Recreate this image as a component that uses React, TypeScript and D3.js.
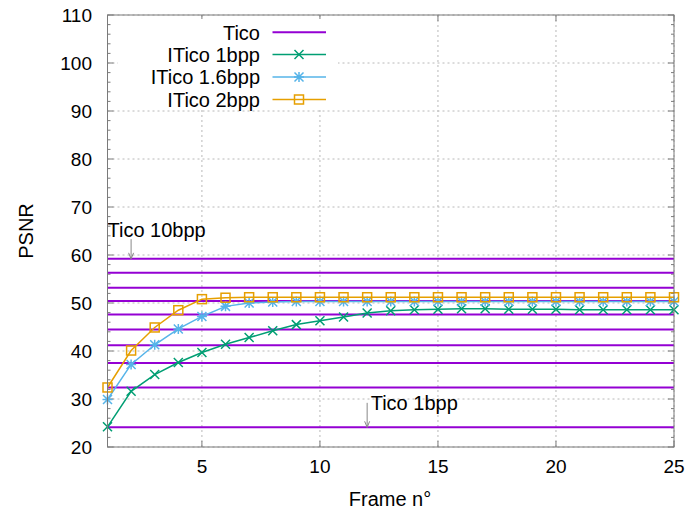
import React from "react";
import * as d3 from "d3";

const frames = [1, 2, 3, 4, 5, 6, 7, 8, 9, 10, 11, 12, 13, 14, 15, 16, 17, 18, 19, 20, 21, 22, 23, 24, 25];
const ticoLevels = [24.1, 32.4, 37.5, 41.2, 44.5, 47.6, 50.4, 53.2, 56.3, 59.2];
const itico1bpp = [24.2, 31.6, 35.1, 37.6, 39.7, 41.4, 42.8, 44.2, 45.5, 46.3, 47.1, 47.9, 48.4, 48.6, 48.7, 48.8, 48.8, 48.7, 48.7, 48.7, 48.6, 48.6, 48.6, 48.6, 48.6];
const itico16bpp = [29.9, 37.2, 41.3, 44.6, 47.2, 49.3, 50.0, 50.2, 50.3, 50.3, 50.3, 50.3, 50.3, 50.3, 50.3, 50.3, 50.3, 50.3, 50.3, 50.3, 50.3, 50.3, 50.3, 50.3, 50.3];
const itico2bpp = [32.4, 40.1, 44.9, 48.5, 50.8, 51.1, 51.2, 51.2, 51.2, 51.2, 51.2, 51.2, 51.2, 51.2, 51.2, 51.2, 51.2, 51.2, 51.2, 51.2, 51.2, 51.2, 51.2, 51.2, 51.2];
const xTicks = [5, 10, 15, 20, 25];
const yTicks = [20, 30, 40, 50, 60, 70, 80, 90, 100, 110];
const legendLabels = ["Tico", "ITico 1bpp", "ITico 1.6bpp", "ITico 2bpp"];
const annotations = [
  { text: "Tico 10bpp", tx: 1, ty: 63.8, ax: 2, ay1: 63.3, ay2: 59.2 },
  { text: "Tico 1bpp", tx: 12.15, ty: 27.8, ax: 12, ay1: 29.2, ay2: 24.1 },
];

const W = 689, H = 517;
const M = { left: 107.5, right: 674, top: 15, bottom: 447 };
const FONT = "'Liberation Sans', Arial, sans-serif";
const FS = 19;
const FL = 20;
const C = { tico: "#9400d3", i1: "#009e73", i16: "#56b4e9", i2: "#e69f00" };

function Marker({ type, x, y, color }: { type: string; x: number; y: number; color: string }) {
  const s = 4.5;
  if (type === "x")
    return <path d={`M${x - s},${y - s}L${x + s},${y + s}M${x - s},${y + s}L${x + s},${y - s}`} stroke={color} strokeWidth={1.5} fill="none" />;
  if (type === "star")
    return <path d={`M${x - s},${y - s}L${x + s},${y + s}M${x - s},${y + s}L${x + s},${y - s}M${x - s - 0.5},${y}L${x + s + 0.5},${y}M${x},${y - s - 0.5}L${x},${y + s + 0.5}`} stroke={color} strokeWidth={1.5} fill="none" />;
  return <rect x={x - s} y={y - s} width={2 * s} height={2 * s} stroke={color} strokeWidth={1.5} fill="none" />;
}

export default function App() {
  const x = d3.scaleLinear().domain([1, 25]).range([M.left, M.right]);
  const y = d3.scaleLinear().domain([20, 110]).range([M.bottom, M.top]);
  const line = d3.line<number>().x((_, i) => x(frames[i])).y((d) => y(d));
  const minorY = d3.range(20, 110.001, 2).filter((v) => v % 10 !== 0);
  const series = [
    { data: itico1bpp, color: C.i1, marker: "x" },
    { data: itico16bpp, color: C.i16, marker: "star" },
    { data: itico2bpp, color: C.i2, marker: "square" },
  ];
  const axisColor = "#7a7a7a";
  const gridColor = "#b8b8b8";
  const legendY = [32.3, 54.5, 77, 99.5];
  const legendColors = [C.tico, C.i1, C.i16, C.i2];
  const legendMarkers = ["none", "x", "star", "square"];
  return (
    <svg width={W} height={H} style={{ display: "block", position: "absolute", left: 0, top: 0, background: "#fff" }} fontFamily={FONT}>
      <rect width={W} height={H} fill="#fff" />
      {/* grid */}
      {xTicks.map((t) => (
        <line key={"gx" + t} x1={x(t)} x2={x(t)} y1={M.top} y2={M.bottom} stroke={gridColor} strokeWidth={1} strokeDasharray="2,3" />
      ))}
      {yTicks.map((t) => (
        <line key={"gy" + t} x1={M.left} x2={M.right} y1={y(t)} y2={y(t)} stroke={gridColor} strokeWidth={1} strokeDasharray="2,3" />
      ))}
      {/* ticks */}
      {yTicks.map((t) => (
        <g key={"ty" + t}>
          <line x1={M.left} x2={M.left + 6} y1={y(t)} y2={y(t)} stroke={axisColor} />
          <line x1={M.right} x2={M.right - 6} y1={y(t)} y2={y(t)} stroke={axisColor} />
          <text x={92} y={y(t)} dy="0.36em" textAnchor="end" fontSize={FS} fill="#000">{t}</text>
        </g>
      ))}
      {minorY.map((t) => (
        <g key={"my" + t}>
          <line x1={M.left} x2={M.left + 3} y1={y(t)} y2={y(t)} stroke={axisColor} />
          <line x1={M.right} x2={M.right - 3} y1={y(t)} y2={y(t)} stroke={axisColor} />
        </g>
      ))}
      {xTicks.map((t) => (
        <g key={"tx" + t}>
          <line x1={x(t)} x2={x(t)} y1={M.bottom} y2={M.bottom - 6} stroke={axisColor} />
          <line x1={x(t)} x2={x(t)} y1={M.top} y2={M.top + 6} stroke={axisColor} />
          <text x={x(t)} y={473} textAnchor="middle" fontSize={FS} fill="#000">{t}</text>
        </g>
      ))}
      {/* Tico levels */}
      {ticoLevels.map((v, i) => (
        <line key={"tl" + i} x1={M.left} x2={M.right} y1={y(v)} y2={y(v)} stroke={C.tico} strokeWidth={2} />
      ))}
      {/* series */}
      {series.map((s, si) => (
        <g key={"s" + si}>
          <path d={line(s.data) || ""} fill="none" stroke={s.color} strokeWidth={1.5} />
          {s.data.map((v, i) => (
            <Marker key={i} type={s.marker} x={x(frames[i])} y={y(v)} color={s.color} />
          ))}
        </g>
      ))}
      {/* annotations */}
      {annotations.map((a, i) => (
        <g key={"an" + i}>
          <text x={x(a.tx)} y={y(a.ty)} fontSize={FL} fill="#000">{a.text}</text>
          <line x1={x(a.ax)} x2={x(a.ax)} y1={y(a.ay1)} y2={y(a.ay2)} stroke="#888" strokeWidth={1} />
          <path d={`M${x(a.ax) - 2.5},${y(a.ay2) - 6}L${x(a.ax)},${y(a.ay2)}L${x(a.ax) + 2.5},${y(a.ay2) - 6}`} stroke="#888" fill="none" strokeWidth={1} />
        </g>
      ))}
      {/* legend */}
      <rect x={118} y={19} width={220} height={89} fill="#fff" />
      {legendLabels.map((l, i) => (
        <g key={"lg" + i}>
          <text x={260} y={legendY[i]} dy="0.36em" textAnchor="end" fontSize={FL} fill="#000">{l}</text>
          <line x1={272.5} x2={326} y1={legendY[i]} y2={legendY[i]} stroke={legendColors[i]} strokeWidth={i === 0 ? 2 : 1.5} />
          {legendMarkers[i] !== "none" && <Marker type={legendMarkers[i]} x={299} y={legendY[i]} color={legendColors[i]} />}
        </g>
      ))}
      {/* border */}
      <rect x={M.left} y={M.top} width={M.right - M.left} height={M.bottom - M.top} fill="none" stroke={axisColor} strokeWidth={1} />
      {/* axis labels */}
      <text x={390} y={506} textAnchor="middle" fontSize={FL} fill="#000">Frame n°</text>
      <text transform={`translate(33,${(M.top + M.bottom) / 2}) rotate(-90)`} textAnchor="middle" fontSize={FL} fill="#000">PSNR</text>
    </svg>
  );
}
